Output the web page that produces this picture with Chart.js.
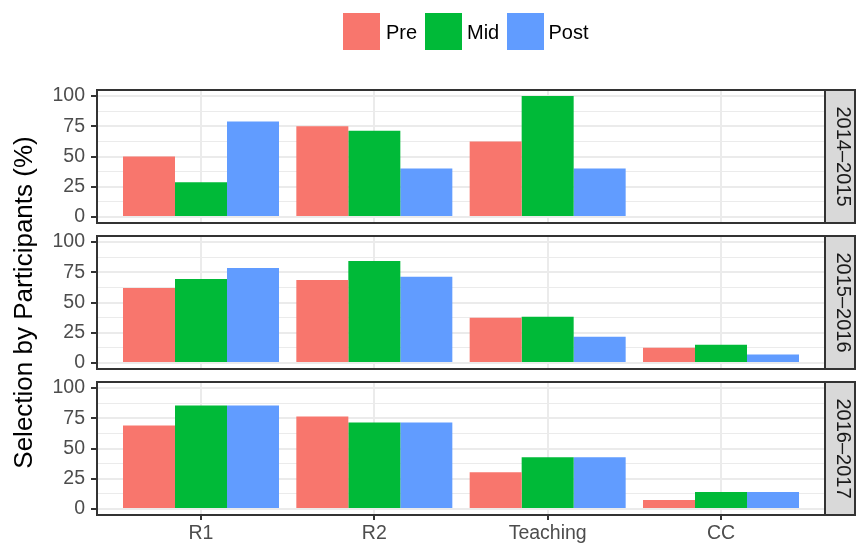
<!DOCTYPE html>
<html>
<head>
<meta charset="utf-8">
<script src="https://cdn.jsdelivr.net/npm/chart.js@4.4.1/dist/chart.umd.min.js"></script>
<style>
    html, body { margin: 0; padding: 0; background: #ffffff; }
    #wrap { position: relative; width: 856px; height: 545px; overflow: hidden; font-family: "Liberation Sans", Arial, sans-serif; }
    #wrap canvas { position: absolute; left: 0; top: 0; }
    .key { position: absolute; top: 13px; width: 37px; height: 37px; }
    .lab { position: absolute; top: 20px; font-size: 20px; line-height: 24px; color: #000000; white-space: nowrap; }
</style>
</head>
<body>
<div id="wrap">
    <canvas id="panel0" width="856" height="545"></canvas>
    <canvas id="panel1" width="856" height="545"></canvas>
    <canvas id="panel2" width="856" height="545"></canvas>
    <div id="legend"></div>
</div>
<script>
// data
const categories = ['R1', 'R2', 'Teaching', 'CC'];
const seriesNames = ['Pre', 'Mid', 'Post'];
const years = ['2014–2015', '2015–2016', '2016–2017'];
const yTicks = [0, 12.5, 25, 37.5, 50, 62.5, 75, 87.5, 100];

const pre1415 = [50, 75, 62.5, null];
const mid1415 = [28.6, 71.4, 100, null];
const post1415 = [79, 40, 40, null];

const pre1516 = [62, 68.7, 37.4, 12.6];
const mid1516 = [69.5, 84.3, 38.2, 15.1];
const post1516 = [78.6, 71.2, 21.7, 6.9];

const pre1617 = [69, 76.4, 30.4, 7.4];
const mid1617 = [85.5, 71.5, 42.7, 14];
const post1617 = [85.5, 71.5, 42.7, 14];

const panels = [
    [pre1415, mid1415, post1415],
    [pre1516, mid1516, post1516],
    [pre1617, mid1617, post1617]
];

// look
const seriesColors = ['#F8766D', '#00BA38', '#619CFF'];
const fontFamily = '"Liberation Sans", Arial, sans-serif';
const panelTop = [90, 236, 382];
const panelHeight = 133;
const yAxisWidth = 97;
const stripWidth = 30;
const xAxisHeight = 30;
const pageHeight = 545;

function framePlugin(label) {
    return {
        id: 'frame',
        afterDatasetsDraw(chart) {
            const { ctx, chartArea: a } = chart;
            const h = a.bottom - a.top;
            ctx.save();
            ctx.fillStyle = '#D9D9D9';
            ctx.fillRect(a.right, a.top, stripWidth, h);
            ctx.strokeStyle = '#333333';
            ctx.lineWidth = 2;
            ctx.strokeRect(a.right, a.top, stripWidth, h);
            ctx.strokeRect(a.left, a.top, a.right - a.left, h);
            ctx.translate(a.right + stripWidth / 2 + 3, a.top + h / 2);
            ctx.rotate(Math.PI / 2);
            ctx.fillStyle = '#1A1A1A';
            ctx.font = '20px ' + fontFamily;
            ctx.textAlign = 'center';
            ctx.textBaseline = 'middle';
            ctx.fillText(label, 0, 0);
            ctx.restore();
        }
    };
}

function makePanel(idx) {
    const rows = panels[idx];
    const isBottom = idx === panels.length - 1;
    const isMiddle = idx === 1;
    const bottomPad = pageHeight - panelTop[idx] - panelHeight - (isBottom ? xAxisHeight : 0);

    const datasets = seriesNames.map((name, s) => ({
        label: name,
        data: categories.map((c, i) => ({ x: i + 1, y: rows[s][i] })),
        backgroundColor: seriesColors[s],
        borderWidth: 0,
        categoryPercentage: 0.9,
        barPercentage: 1
    }));

    return new Chart(document.getElementById('panel' + idx), {
        type: 'bar',
        data: { datasets },
        options: {
            responsive: false,
            animation: false,
            events: [],
            layout: {
                padding: { left: 0, right: 856 - 825, top: panelTop[idx], bottom: bottomPad }
            },
            plugins: {
                legend: { display: false },
                tooltip: { enabled: false }
            },
            scales: {
                x: {
                    type: 'linear',
                    min: 0.4,
                    max: 4.6,
                    bounds: 'data',
                    offset: false,
                    afterBuildTicks: (scale) => {
                        scale.ticks = categories.map((c, i) => ({ value: i + 1 }));
                    },
                    afterFit: (scale) => {
                        scale.height = isBottom ? xAxisHeight : 0;
                    },
                    border: { display: false },
                    grid: {
                        offset: false,
                        color: '#EBEBEB',
                        lineWidth: 2,
                        drawTicks: isBottom,
                        tickColor: '#333333',
                        tickLength: 5,
                        tickWidth: 2
                    },
                    ticks: {
                        display: isBottom,
                        autoSkip: false,
                        maxRotation: 0,
                        padding: 2,
                        color: '#4D4D4D',
                        font: { family: fontFamily, size: 19.5 },
                        callback: (v) => categories[Math.round(v) - 1]
                    }
                },
                y: {
                    min: -5,
                    max: 105,
                    bounds: 'data',
                    afterBuildTicks: (scale) => {
                        scale.ticks = yTicks.map(v => ({ value: v }));
                    },
                    afterFit: (scale) => {
                        scale.width = yAxisWidth;
                    },
                    border: { display: false },
                    grid: {
                        color: '#EBEBEB',
                        lineWidth: (ctx) => (ctx.tick && ctx.tick.value % 25 === 0 ? 2 : 1),
                        tickColor: (ctx) => (ctx.tick && ctx.tick.value % 25 === 0 ? '#333333' : 'rgba(0,0,0,0)'),
                        tickLength: 6,
                        tickWidth: 2
                    },
                    ticks: {
                        autoSkip: false,
                        padding: 6,
                        color: '#4D4D4D',
                        font: { family: fontFamily, size: 19.5 },
                        callback: (v) => (v % 25 === 0 ? String(v) : '')
                    },
                    title: {
                        display: isMiddle,
                        text: 'Selection by Participants (%)',
                        color: '#000000',
                        font: { family: fontFamily, size: 26 },
                        padding: { top: 9, bottom: 0 }
                    }
                }
            }
        },
        plugins: [framePlugin(years[idx])]
    });
}

// legend on top, built from the same series lists
function buildLegend() {
    const legend = document.getElementById('legend');
    const keyLeft = [343, 425, 507];
    const labLeft = [386, 467, 548.5];
    seriesNames.forEach((name, s) => {
        const key = document.createElement('div');
        key.className = 'key';
        key.style.left = keyLeft[s] + 'px';
        key.style.background = seriesColors[s];
        legend.appendChild(key);

        const lab = document.createElement('div');
        lab.className = 'lab';
        lab.style.left = labLeft[s] + 'px';
        lab.textContent = name;
        legend.appendChild(lab);
    });
}

panels.forEach((p, i) => makePanel(i));
buildLegend();
</script>
</body>
</html>
